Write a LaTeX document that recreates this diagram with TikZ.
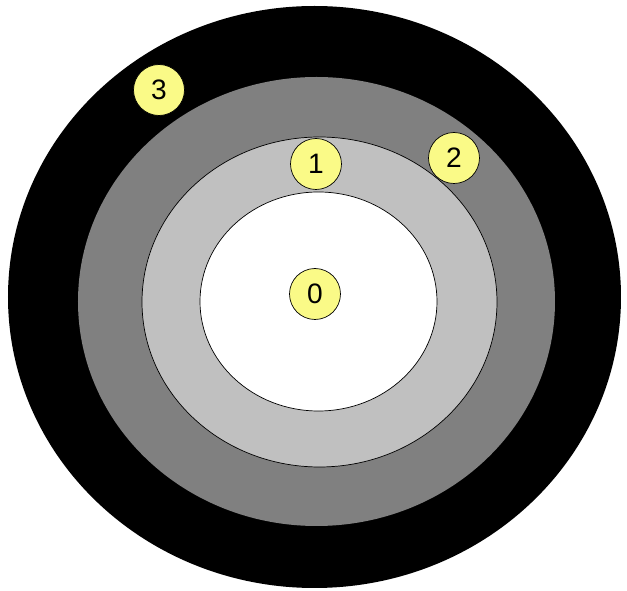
\documentclass[tikz,border=0pt]{standalone}
\usepackage{fontspec}
\setmainfont{Liberation Sans}
\usepackage{xcolor}
\definecolor{badgeyellow}{RGB}{250,250,135}
\definecolor{ringdark}{RGB}{128,128,128}
\definecolor{ringlight}{RGB}{192,192,192}
\tikzset{badge/.style={circle,draw=black,fill=badgeyellow,thin,minimum size=1.02cm,inner sep=0pt,font=\fontsize{16}{18}\selectfont}}
\begin{document}
\begin{tikzpicture}[x=0.02cm,y=-0.02cm]
\useasboundingbox (0,0) rectangle (627,591);
\fill[black] (314.5,297) ellipse (306.5 and 291);
\fill[ringdark] (316.5,301.5) ellipse (238.5 and 224.5);
\filldraw[fill=ringlight,draw=black,thin] (319.5,302) ellipse (177.5 and 165);
\filldraw[fill=white,draw=black,thin] (318.5,301.5) ellipse (118.5 and 109.5);
\node[badge] (b0) at (315,294) {0};
\node[badge] (b1) at (316,164) {1};
\node[badge] (b2) at (454,158) {2};
\node[badge] (b3) at (159,90) {3};
\end{tikzpicture}
\end{document}
